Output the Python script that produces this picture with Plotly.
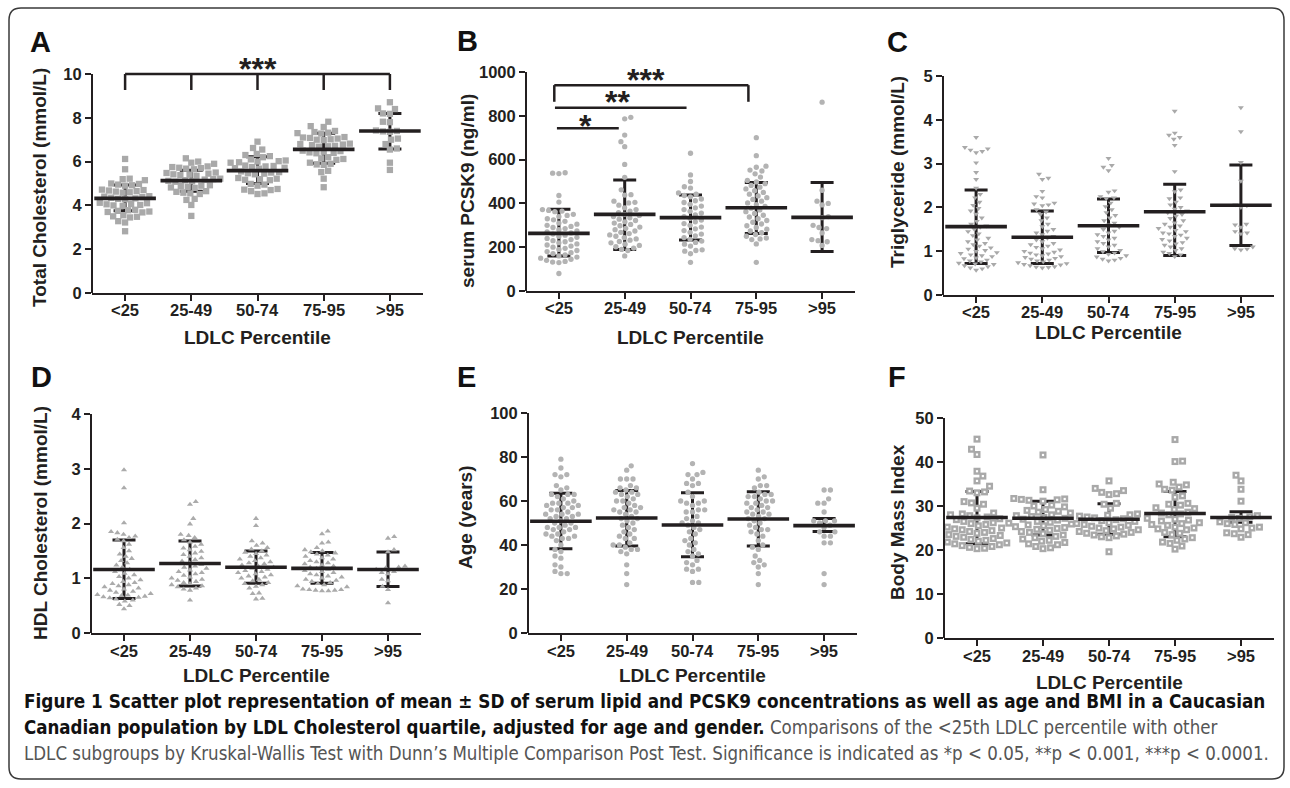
import math
import plotly.graph_objects as go

W, H = 1290, 788
cats = ["<25", "25-49", "50-74", "75-95", ">95"]

# ---------------- data ----------------
# A: Total cholesterol (mmol/L)
tc_values = [
    [6.12, 5.65, 5.22, 5.2, 5.15, 5.0, 4.98, 4.95, 4.92, 4.9, 4.72, 4.7, 4.68, 4.65, 4.63, 4.6, 4.58,
     4.42, 4.4, 4.38, 4.35, 4.32, 4.3, 4.28, 4.12, 4.1, 4.07, 4.05, 4.02, 4.0, 3.98,
     3.8, 3.78, 3.75, 3.72, 3.7, 3.68, 3.55, 3.5, 3.48, 3.45, 3.28, 3.22, 2.82],
    [6.15, 6.0, 5.95, 5.9, 5.78, 5.75, 5.72, 5.7, 5.68, 5.65, 5.5, 5.48, 5.45, 5.42, 5.4, 5.38, 5.35,
     5.22, 5.2, 5.18, 5.15, 5.12, 5.1, 5.08, 4.92, 4.9, 4.88, 4.85, 4.82, 4.8,
     4.65, 4.62, 4.58, 4.55, 4.52, 4.3, 4.25, 4.02, 3.52],
    [6.91, 6.62, 6.55, 6.35, 6.3, 6.25, 6.2, 6.1, 6.05, 6.02, 6.0, 5.97, 5.95,
     5.82, 5.8, 5.78, 5.75, 5.72, 5.7, 5.68, 5.55, 5.52, 5.5, 5.47, 5.45, 5.42,
     5.25, 5.22, 5.2, 5.17, 5.15, 4.98, 4.95, 4.9, 4.75, 4.72, 4.7, 4.65, 4.55, 4.52],
    [7.82, 7.62, 7.58, 7.4, 7.35, 7.32, 7.3, 7.28, 7.12, 7.1, 7.08, 7.05, 7.02, 7.0, 6.98,
     6.82, 6.8, 6.78, 6.75, 6.72, 6.7, 6.68, 6.5, 6.48, 6.45, 6.42, 6.4, 6.38,
     6.2, 6.15, 6.12, 6.08, 5.95, 5.9, 5.87, 5.85, 5.58, 5.52, 5.22, 4.83],
    [8.71, 8.43, 8.4, 8.2, 8.18, 7.82, 7.8, 7.42, 7.4, 7.38, 7.36, 7.05, 7.0, 6.8, 6.6, 6.55, 5.95, 5.62],
]
tc_mean = [4.32, 5.13, 5.59, 6.56, 7.40]
tc_upper = [4.93, 5.60, 6.22, 7.29, 8.20]
tc_lower = [3.76, 4.65, 5.00, 5.92, 6.57]

# B: serum PCSK9 (ng/ml)
pcsk9_values = [
    [540, 538, 536, 436, 406, 372, 368, 365, 362, 350, 345, 340, 330, 325, 318, 310, 305, 300, 295, 290, 285,
     280, 275, 270, 265, 260, 255, 250, 245, 240, 235, 230, 225, 220, 215, 210, 205, 200, 195, 190, 185,
     180, 175, 170, 165, 160, 155, 150, 145, 140, 135, 132, 130, 80],
    [793, 786, 712, 682, 659, 578, 519, 462, 440, 438, 410, 405, 402, 392, 380, 372, 365, 358, 350, 345,
     340, 334, 328, 322, 316, 310, 304, 298, 292, 286, 280, 274, 268, 262, 256, 250, 244, 238, 232, 226,
     220, 214, 208, 202, 196, 190, 185, 160],
    [629, 530, 500, 476, 470, 448, 442, 436, 430, 420, 412, 404, 396, 388, 380, 372, 364, 356, 348, 340,
     332, 324, 316, 308, 300, 292, 284, 276, 268, 260, 252, 244, 236, 228, 222, 214, 205, 188, 185, 182, 170, 131],
    [700, 618, 570, 565, 552, 548, 535, 520, 505, 498, 490, 482, 474, 466, 458, 450, 442, 434, 426, 418,
     410, 402, 394, 386, 378, 370, 362, 354, 346, 338, 330, 322, 314, 306, 298, 290, 282, 274, 266, 258,
     250, 242, 238, 235, 215, 131],
    [862, 460, 410, 400, 393, 340, 335, 300, 290, 285, 265, 235, 230, 225, 208],
]
pcsk9_mean = [263, 350, 335, 380, 336]
pcsk9_upper = [373, 507, 438, 496, 496]
pcsk9_lower = [160, 190, 233, 263, 180]

# C: Triglyceride (mmol/L)
tg_values = [
    [3.6, 3.37, 3.34, 3.31, 3.28, 3.25, 3.02, 2.8, 2.64, 2.44, 2.3, 2.22, 2.12, 2.05, 1.98, 1.92, 1.85,
     1.76, 1.68, 1.62, 1.58, 1.55, 1.5, 1.45, 1.4, 1.36, 1.3, 1.26, 1.22, 1.18, 1.15, 1.12, 1.08, 1.05,
     1.02, 1.0, 0.97, 0.95, 0.92, 0.9, 0.88, 0.85, 0.83, 0.8, 0.78, 0.76, 0.73, 0.71, 0.7, 0.67, 0.65,
     0.62, 0.6, 0.57],
    [2.76, 2.67, 2.64, 2.37, 2.25, 2.22, 2.1, 2.08, 2.06, 2.04, 1.95, 1.9, 1.84, 1.76, 1.7, 1.62, 1.56,
     1.5, 1.46, 1.42, 1.38, 1.34, 1.3, 1.26, 1.22, 1.18, 1.15, 1.12, 1.09, 1.06, 1.03, 1.0, 0.98, 0.96,
     0.94, 0.92, 0.9, 0.88, 0.86, 0.84, 0.82, 0.8, 0.78, 0.76, 0.74, 0.72, 0.7, 0.69, 0.67, 0.65, 0.64,
     0.63, 0.62],
    [3.12, 2.96, 2.92, 2.84, 2.38, 2.35, 2.25, 2.22, 2.2, 2.1, 2.02, 1.95, 1.88, 1.82, 1.76, 1.7, 1.64,
     1.6, 1.55, 1.5, 1.46, 1.42, 1.38, 1.34, 1.3, 1.26, 1.22, 1.18, 1.14, 1.1, 1.06, 1.02, 0.99, 0.96,
     0.93, 0.9, 0.87, 0.84, 0.82, 0.8, 0.78],
    [4.2, 3.7, 3.65, 3.6, 3.56, 3.42, 2.82, 2.4, 2.36, 2.22, 2.2, 2.12, 2.06, 2.0, 1.96, 1.92, 1.88, 1.84,
     1.8, 1.75, 1.7, 1.65, 1.62, 1.58, 1.55, 1.52, 1.48, 1.45, 1.42, 1.4, 1.37, 1.34, 1.3, 1.27, 1.24,
     1.2, 1.17, 1.14, 1.1, 1.06, 1.02, 0.98, 0.95, 0.92, 0.88],
    [4.28, 3.73, 3.03, 2.6, 2.06, 2.04, 2.0, 1.62, 1.6, 1.55, 1.45, 1.42, 1.4, 1.1, 1.06, 1.05, 1.03],
]
tg_mean = [1.56, 1.32, 1.58, 1.90, 2.05]
tg_upper = [2.40, 1.92, 2.19, 2.53, 2.97]
tg_lower = [0.72, 0.72, 0.97, 0.90, 1.13]

# D: HDL cholesterol (mmol/L)
hdl_values = [
    [2.98, 2.65, 2.01, 1.85, 1.83, 1.8, 1.77, 1.74, 1.71, 1.68, 1.62, 1.56, 1.5, 1.44, 1.4, 1.36, 1.32,
     1.28, 1.24, 1.2, 1.16, 1.12, 1.09, 1.06, 1.03, 1.0, 0.97, 0.94, 0.92, 0.9, 0.88, 0.86, 0.84, 0.82,
     0.8, 0.78, 0.76, 0.74, 0.72, 0.7, 0.69, 0.68, 0.67, 0.66, 0.65, 0.64, 0.62, 0.6, 0.58, 0.52, 0.5, 0.44],
    [2.4, 2.35, 2.09, 1.99, 1.8, 1.78, 1.74, 1.7, 1.66, 1.62, 1.58, 1.55, 1.52, 1.49, 1.46, 1.43, 1.4,
     1.37, 1.34, 1.31, 1.28, 1.25, 1.22, 1.2, 1.18, 1.15, 1.12, 1.1, 1.08, 1.05, 1.02, 1.0, 0.98, 0.96,
     0.94, 0.92, 0.9, 0.88, 0.86, 0.84, 0.82, 0.8, 0.78, 0.6],
    [2.09, 1.96, 1.68, 1.64, 1.6, 1.56, 1.53, 1.5, 1.47, 1.45, 1.42, 1.4, 1.37, 1.35, 1.32, 1.3, 1.28,
     1.26, 1.24, 1.22, 1.2, 1.18, 1.16, 1.14, 1.12, 1.1, 1.08, 1.06, 1.04, 1.02, 1.0, 0.98, 0.95, 0.92,
     0.9, 0.88, 0.85, 0.82, 0.73, 0.72, 0.63, 0.62],
    [1.86, 1.81, 1.66, 1.64, 1.56, 1.52, 1.5, 1.48, 1.46, 1.44, 1.42, 1.4, 1.37, 1.35, 1.32, 1.3, 1.28,
     1.26, 1.24, 1.22, 1.2, 1.18, 1.16, 1.14, 1.12, 1.1, 1.08, 1.06, 1.04, 1.02, 1.0, 0.98, 0.96, 0.94,
     0.92, 0.9, 0.88, 0.86, 0.84, 0.8, 0.79, 0.79, 0.78, 0.78, 0.77, 0.77],
    [1.76, 1.73, 1.52, 1.48, 1.22, 1.2, 1.19, 1.16, 1.12, 1.1, 1.08, 0.98, 0.95, 0.85, 0.79, 0.55],
]
hdl_mean = [1.16, 1.27, 1.20, 1.18, 1.16]
hdl_upper = [1.70, 1.68, 1.50, 1.47, 1.48]
hdl_lower = [0.63, 0.86, 0.91, 0.91, 0.85]

# E: Age (years)
age_values = [
    [79, 75, 72, 72, 71, 67, 66, 65, 63, 63, 63, 62, 61, 60, 59, 59, 59, 58, 58, 57, 57, 56, 56, 55, 54,
     54, 54, 53, 53, 52, 52, 51, 50, 50, 49, 48, 48, 48, 47, 47, 46, 45, 45, 44, 44, 43, 43, 42, 40, 38,
     37, 35, 34, 31, 30, 28, 27, 27],
    [76, 74, 70, 70, 70, 67, 66, 66, 65, 64, 64, 63, 63, 62, 61, 60, 60, 59, 58, 57, 57, 56, 56, 55, 55,
     54, 53, 52, 52, 51, 50, 49, 48, 47, 46, 45, 44, 43, 43, 41, 40, 40, 39, 38, 38, 37, 36, 31, 27, 22],
    [77, 73, 72, 72, 70, 68, 68, 67, 64, 62, 60, 60, 59, 59, 58, 56, 56, 55, 55, 53, 52, 51, 50, 50, 49,
     48, 47, 46, 45, 43, 42, 41, 40, 38, 37, 36, 35, 33, 32, 31, 29, 29, 28, 23, 23],
    [74, 71, 70, 67, 67, 66, 64, 63, 63, 62, 62, 61, 60, 60, 59, 59, 58, 57, 57, 56, 55, 55, 54, 54, 53,
     52, 52, 51, 50, 49, 48, 47, 47, 46, 45, 44, 42, 40, 39, 38, 35, 33, 32, 31, 30, 27, 22],
    [65, 65, 61, 59, 59, 55, 51, 51, 51, 50, 49, 48, 46, 46, 44, 44, 41, 41, 27, 22],
]
age_mean = [50.8, 52.3, 49.1, 51.8, 48.8]
age_upper = [63.5, 64.8, 63.8, 64.2, 52.1]
age_lower = [38.3, 39.5, 34.7, 39.5, 46.1]

# F: Body mass index
bmi_values = [
    [45.2, 42.9, 41.7, 37.9, 36.8, 35.7, 34.5, 33.4, 33.2, 33.0, 31.0, 30.7, 30.4, 29.5, 28.4, 28.2, 28.0,
     27.8, 27.5, 27.3, 27.1, 26.9, 26.5, 26.2, 26.0, 25.8, 25.5, 25.2, 25.0, 24.8, 24.6, 24.4, 24.2, 24.0,
     23.8, 23.5, 23.3, 23.1, 22.9, 22.6, 22.4, 22.2, 22.0, 21.8, 21.6, 21.4, 21.2, 21.0, 20.8, 20.6, 20.4, 20.3],
    [41.6, 33.7, 31.7, 31.6, 31.5, 31.4, 31.3, 31.1, 30.2, 30.0, 29.8, 29.2, 29.0, 28.8, 28.6, 28.4, 28.0,
     27.8, 27.6, 27.4, 27.2, 27.0, 26.8, 26.5, 26.3, 26.1, 25.9, 25.7, 25.5, 25.3, 25.1, 24.9, 24.7, 24.5,
     24.2, 24.0, 23.7, 23.4, 23.1, 22.8, 22.5, 22.2, 22.0, 21.7, 21.4, 21.2, 20.8, 20.5, 20.3],
    [35.7, 34.0, 33.5, 33.1, 32.8, 32.6, 30.6, 30.4, 29.5, 28.2, 28.0, 27.9, 27.7, 27.5, 27.3, 27.1, 26.9,
     26.7, 26.5, 26.2, 26.0, 25.8, 25.6, 25.4, 25.2, 25.0, 24.8, 24.6, 24.4, 24.2, 24.0, 23.8, 23.6, 23.4,
     23.2, 23.0, 22.8, 19.6],
    [45.1, 40.2, 40.1, 35.4, 35.0, 34.8, 34.3, 33.8, 33.6, 32.3, 32.0, 30.6, 30.4, 30.2, 29.6, 29.4, 29.2,
     28.6, 28.4, 28.2, 28.0, 27.2, 27.0, 26.8, 26.6, 26.2, 26.0, 25.8, 25.6, 25.2, 25.0, 24.8, 24.6, 24.0,
     23.8, 23.5, 22.8, 22.5, 22.2, 21.8, 21.5, 20.9, 20.2],
    [37.0, 35.7, 33.8, 31.1, 27.8, 27.6, 27.4, 27.2, 26.4, 26.2, 26.0, 25.8, 25.2, 25.0, 24.8, 23.9, 23.7,
     23.5, 22.9],
]
bmi_mean = [27.4, 27.2, 27.0, 28.3, 27.4]
bmi_upper = [33.3, 31.1, 30.5, 33.3, 28.7]
bmi_lower = [21.4, 23.4, 23.6, 23.0, 26.3]

# ---------------- layout specs ----------------
FONT = "Liberation Sans, Arial, sans-serif"
INK = "#231f20"

panels = [
    dict(letter="A", vals=tc_values, mean=tc_mean, up=tc_upper, lo=tc_lower,
         left=92, right=423, zero=293, ymax=10, ymax_px=74, top=38, dtick=2,
         ytitle="Total Cholesterol (mmol/L)", ytx=40, yty=188, lx=40, ly=42, xly=310, xty=337,
         sym="square", size=6.3, pitch=7.0, color="#a9a9a9"),
    dict(letter="B", vals=pcsk9_values, mean=pcsk9_mean, up=pcsk9_upper, lo=pcsk9_lower,
         left=526, right=855, zero=291, ymax=1000, ymax_px=72, top=38, dtick=200,
         ytitle="serum PCSK9 (ng/ml)", ytx=467, yty=191, lx=467, ly=41, xly=308, xty=337,
         sym="circle", size=5.3, pitch=6.3, color="#b3b3b3"),
    dict(letter="C", vals=tg_values, mean=tg_mean, up=tg_upper, lo=tg_lower,
         left=943, right=1274, zero=295, ymax=5, ymax_px=76, top=38, dtick=1,
         ytitle="Triglyceride (mmol/L)", ytx=897, yty=172, lx=898, ly=42, xly=312, xty=332,
         sym="triangle-down", size=5.2, pitch=6.2, color="#a9a9a9"),
    dict(letter="D", vals=hdl_values, mean=hdl_mean, up=hdl_upper, lo=hdl_lower,
         left=91, right=421, zero=633, ymax=4, ymax_px=414, top=395, dtick=1,
         ytitle="HDL Cholesterol (mmol/L)", ytx=40, yty=523, lx=41, ly=377, xly=651, xty=675,
         sym="triangle-up", size=5.4, pitch=6.4, color="#ababab"),
    dict(letter="E", vals=age_values, mean=age_mean, up=age_upper, lo=age_lower,
         left=528, right=857, zero=633, ymax=100, ymax_px=413, top=395, dtick=20,
         ytitle="Age (years)", ytx=465, yty=517, lx=466, ly=377, xly=651, xty=675,
         sym="circle", size=5.3, pitch=6.3, color="#b3b3b3"),
    dict(letter="F", vals=bmi_values, mean=bmi_mean, up=bmi_upper, lo=bmi_lower,
         left=944, right=1274, zero=638, ymax=50, ymax_px=418, top=395, dtick=10,
         ytitle="Body Mass Index", ytx=897, yty=522, lx=897, ly=377, xly=656, xty=682,
         sym="square", size=7.0, pitch=7.6, color="#a9a9a9", hollow=True),
]

XR = [-0.5, 4.5]


def swarm(vals, scale, pitch):
    """Greedy beeswarm: pixel x offsets so that markers do not overlap."""
    order = sorted(range(len(vals)), key=lambda i: vals[i])
    placed = []
    out = [0.0] * len(vals)
    for k, i in enumerate(order):
        y = vals[i] * scale
        near = [(a, b) for a, b in placed if abs(b - y) < pitch]
        cands = [0.0]
        for a, b in near:
            dx = math.sqrt(pitch ** 2 - (b - y) ** 2)
            cands += [a + dx, a - dx]
        sgn = 1 if k % 2 == 0 else -1
        cands.sort(key=lambda c: (round(abs(c), 3), sgn * c))
        for c in cands:
            if all((c - a) ** 2 + (y - b) ** 2 >= pitch ** 2 - 1e-6 for a, b in near):
                out[i] = c
                placed.append((c, y))
                break
    return out


fig = go.Figure()
shapes = []
annotations = []
layout_axes = {}

for n, p in enumerate(panels, start=1):
    xa = "x" if n == 1 else f"x{n}"
    ya = "y" if n == 1 else f"y{n}"
    scale = (p["zero"] - p["ymax_px"]) / p["ymax"]          # px per unit
    yr_top = (p["zero"] - p["top"]) / scale
    px_per_cat = (p["right"] - p["left"]) / (XR[1] - XR[0])
    tickfont = dict(family=FONT, size=16.5, color=INK, weight="bold")

    layout_axes["xaxis" if n == 1 else f"xaxis{n}"] = dict(
        domain=[p["left"] / W, p["right"] / W], anchor=ya, range=XR,
        tickmode="array", tickvals=list(range(len(cats))), showticklabels=False,
        ticks="outside", ticklen=6, tickwidth=2, tickcolor=INK,
        showline=True, linewidth=2, linecolor=INK, showgrid=False, zeroline=False,
        fixedrange=True, automargin=False)
    layout_axes["yaxis" if n == 1 else f"yaxis{n}"] = dict(
        domain=[1 - p["zero"] / H, 1 - p["top"] / H], anchor=xa, range=[0, yr_top],
        tickmode="array", tickvals=list(range(0, p["ymax"] + 1, p["dtick"])),
        ticks="outside", ticklen=6, tickwidth=2, tickcolor=INK,
        showline=False, showgrid=False, zeroline=False, tickfont=tickfont, fixedrange=True,
        automargin=False)

    # category labels under the x axis
    for g, c in enumerate(cats):
        annotations.append(dict(text=c, xref=xa, yref="paper", x=g, y=1 - p["xly"] / H,
                                xanchor="center", yanchor="middle", showarrow=False, font=tickfont))

    # y-axis line stops at the top tick
    shapes.append(dict(type="line", xref="paper", yref=ya, x0=p["left"] / W, x1=p["left"] / W,
                       y0=0, y1=p["ymax"], line=dict(color=INK, width=2)))

    xs_idx = list(range(len(cats)))
    # SD bars (under the points)
    fig.add_trace(go.Scatter(
        x=xs_idx, y=p["mean"], xaxis=xa, yaxis=ya, mode="markers",
        marker=dict(size=1, color="rgba(0,0,0,0)"), hoverinfo="skip", showlegend=False,
        error_y=dict(type="data", symmetric=False,
                     array=[u - m for u, m in zip(p["up"], p["mean"])],
                     arrayminus=[m - l for m, l in zip(p["mean"], p["lo"])],
                     color=INK, thickness=3, width=11.5)))

    # scatter points
    px_list, py_list = [], []
    for g, vals in enumerate(p["vals"]):
        offs = swarm(vals, scale, p["pitch"])
        px_list += [g + o / px_per_cat for o in offs]
        py_list += vals
    fig.add_trace(go.Scatter(
        x=px_list, y=py_list, xaxis=xa, yaxis=ya, mode="markers",
        marker=dict(symbol=p["sym"], size=p["size"], color=p["color"], line=dict(width=0)),
        hoverinfo="skip", showlegend=False, cliponaxis=False))
    if p.get("hollow"):
        fig.add_trace(go.Scatter(
            x=px_list, y=py_list, xaxis=xa, yaxis=ya, mode="markers",
            marker=dict(symbol="square", size=2.2, color="white", line=dict(width=0)),
            hoverinfo="skip", showlegend=False, cliponaxis=False))

    # mean lines
    fig.add_trace(go.Scatter(
        x=xs_idx, y=p["mean"], xaxis=xa, yaxis=ya, mode="markers",
        marker=dict(symbol="line-ew", size=44, line=dict(width=3.6, color=INK)),
        hoverinfo="skip", showlegend=False, cliponaxis=False))

    # labels
    annotations.append(dict(text=p["letter"], xref="paper", yref="paper", x=p["lx"] / W, y=1 - p["ly"] / H,
                            xanchor="center", yanchor="middle", showarrow=False,
                            font=dict(family=FONT, size=29, color="#111", weight="bold")))
    annotations.append(dict(text=p["ytitle"], xref="paper", yref="paper", x=p["ytx"] / W, y=1 - p["yty"] / H,
                            xanchor="center", yanchor="middle", showarrow=False, textangle=-90,
                            font=dict(family=FONT, size=19, color=INK, weight="bold")))
    annotations.append(dict(text="LDLC Percentile", xref="paper", yref="paper",
                            x=(p["left"] + p["right"]) / 2 / W, y=1 - p["xty"] / H,
                            xanchor="center", yanchor="middle", showarrow=False,
                            font=dict(family=FONT, size=19, color=INK, weight="bold")))

# significance brackets (data coordinates)
BL = dict(color=INK, width=2.5)
for g in range(5):
    shapes.append(dict(type="line", xref="x", yref="y", x0=g, x1=g, y0=9.27, y1=10.0, line=BL))
shapes.append(dict(type="line", xref="x", yref="y", x0=0, x1=4, y0=10.0, y1=10.0, line=BL))
shapes.append(dict(type="line", xref="x2", yref="y2", x0=-0.07, x1=2.88, y0=940, y1=940, line=BL))
shapes.append(dict(type="line", xref="x2", yref="y2", x0=-0.07, x1=-0.07, y0=864, y1=940, line=BL))
shapes.append(dict(type="line", xref="x2", yref="y2", x0=2.88, x1=2.88, y0=864, y1=940, line=BL))
shapes.append(dict(type="line", xref="x2", yref="y2", x0=-0.06, x1=1.94, y0=837, y1=837, line=BL))
shapes.append(dict(type="line", xref="x2", yref="y2", x0=-0.03, x1=0.91, y0=743, y1=743, line=BL))

stars = [("x", "y", 2.0, 10.41, "***"), ("x2", "y2", 1.32, 982, "***"),
         ("x2", "y2", 0.89, 881, "**"), ("x2", "y2", 0.41, 772, "*")]
for xr, yr, sx, sy, s in stars:
    annotations.append(dict(text=s, xref=xr, yref=yr, x=sx, y=sy, xanchor="center", yanchor="middle",
                            yshift=-4, showarrow=False,
                            font=dict(family=FONT, size=32, color=INK, weight="bold")))

# caption
CAP = "Liberation Sans Narrow, DejaVu Sans Condensed, Liberation Sans, sans-serif"
cap_lines = [
    "<b>Figure 1 Scatter plot representation of mean ± SD of serum lipid and PCSK9 concentrations as well as age and BMI in a Caucasian</b>",
    "<b>Canadian population by LDL Cholesterol quartile, adjusted for age and gender.</b> "
    "<span style='color:#555555'>Comparisons of the &lt;25th LDLC percentile with other</span>",
    "<span style='color:#555555'>LDLC subgroups by Kruskal-Wallis Test with Dunn’s Multiple Comparison Post Test. "
    "Significance is indicated as *p &lt; 0.05, **p &lt; 0.001, ***p &lt; 0.0001.</span>",
]
cap_sizes = [18.75, 18.55, 18.55]
for t, yy, fs in zip(cap_lines, [701, 727, 753], cap_sizes):
    annotations.append(dict(text=t, xref="paper", yref="paper", x=22 / W, y=1 - yy / H,
                            xanchor="left", yanchor="middle", showarrow=False,
                            font=dict(family=CAP, size=fs, color="#111")))

# rounded border
x0, y0, x1, y1, r = 9 / W, 1 - 8 / H, 1284 / W, 1 - 779 / H, 12
rx, ry = r / W, r / H
path = (f"M {x0 + rx},{y0} L {x1 - rx},{y0} Q {x1},{y0} {x1},{y0 - ry} L {x1},{y1 + ry} "
        f"Q {x1},{y1} {x1 - rx},{y1} L {x0 + rx},{y1} Q {x0},{y1} {x0},{y1 + ry} L {x0},{y0 - ry} "
        f"Q {x0},{y0} {x0 + rx},{y0} Z")
shapes.append(dict(type="path", xref="paper", yref="paper", path=path, line=dict(color="#3a3a3a", width=1.5)))

fig.update_layout(width=W, height=H, margin=dict(l=0, r=0, t=0, b=0, pad=0, autoexpand=False),
                  autosize=False,
                  paper_bgcolor="white", plot_bgcolor="white", showlegend=False,
                  shapes=shapes, annotations=annotations, **layout_axes)

fig.write_html("out.html", config={"displayModeBar": False, "staticPlot": True, "responsive": False},
               post_script="document.body.style.margin='0';document.body.style.overflow='hidden';")
